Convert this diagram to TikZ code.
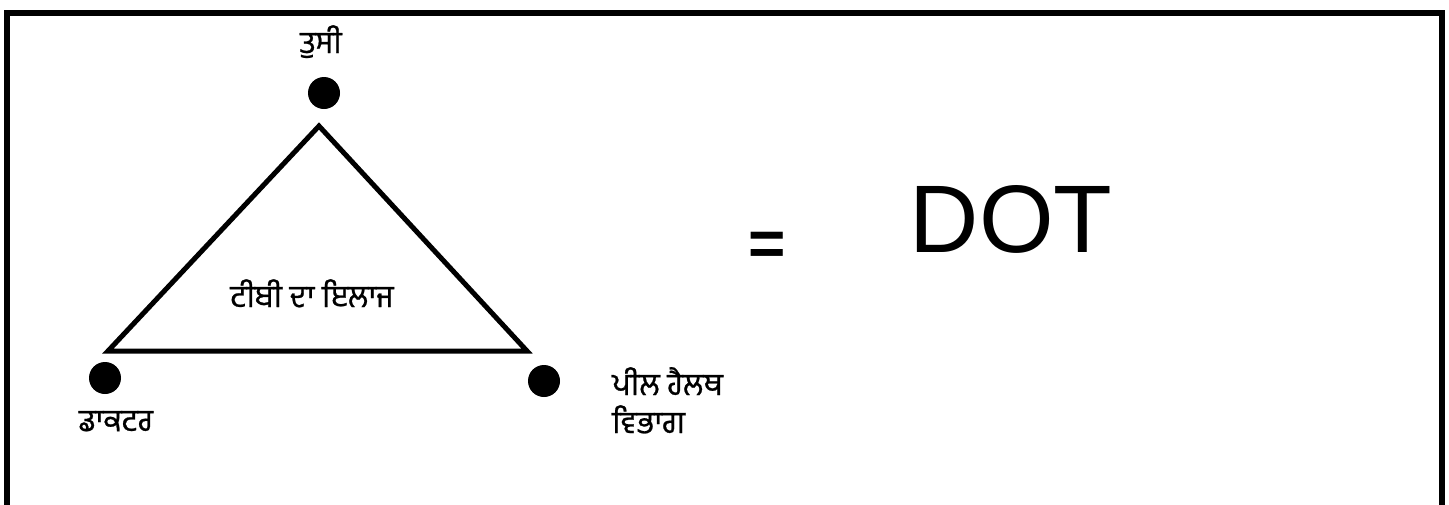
\documentclass[tikz,border=0pt]{standalone}
\usepackage{fontspec}
\setmainfont{Liberation Sans}
\newfontfamily\gurmukhi[Script=Gurmukhi, FakeBold=0.8]{Hind Jalandhar}
\usepackage{tikz}
\usetikzlibrary{positioning}

\begin{document}
\begin{tikzpicture}[x=1pt, y=-1pt]
    \tikzstyle{dot} = [circle, fill=black, minimum size=32pt, inner sep=0pt]
    \tikzstyle{punjabi} = [font=\gurmukhi\fontsize{31}{38}\selectfont, inner sep=0pt, anchor=base]
    \tikzstyle{edge} = [draw, line width=5pt, line join=miter]
    \tikzstyle{frame} = [draw, line width=6pt, line join=miter]

    \useasboundingbox (0,0) rectangle (1449,504);
    \path [frame] (6.5,530) -- (6.5,13) -- (1441.5,13) -- (1441.5,530);

    \coordinate (apex) at (319,126);
    \coordinate (leftcorner) at (108,351);
    \coordinate (rightcorner) at (527,351);
    \path [edge] (apex) -- (leftcorner) -- (rightcorner) -- cycle;

    \node [dot] (you) at (324,93) {};
    \node [dot] (doctor) at (105,378) {};
    \node [dot] (health) at (544,381) {};

    \node [punjabi] (youtext) at (321,53) {ਤੁਸੀ};
    \node [punjabi] (doctortext) at (116,431) {ਡਾਕਟਰ};
    \node [punjabi, anchor=base west, align=left] (healthtext) at (612,395) {ਪੀਲ ਹੈਲਥ};
    \node [punjabi, anchor=base west, align=left] (healthtext2) at (612,433) {ਵਿਭਾਗ};
    \node [punjabi] (cure) at (312,307) {ਟੀਬੀ ਦਾ ਇਲਾਜ};

    \node [font=\bfseries\fontsize{64}{64}\selectfont, inner sep=0pt, anchor=base] (equals) at (767,265) {=};
    \node [font=\fontsize{96}{96}\selectfont, inner sep=0pt, anchor=base] (dottext) at (1011,252) {DOT};
\end{tikzpicture}
\end{document}
